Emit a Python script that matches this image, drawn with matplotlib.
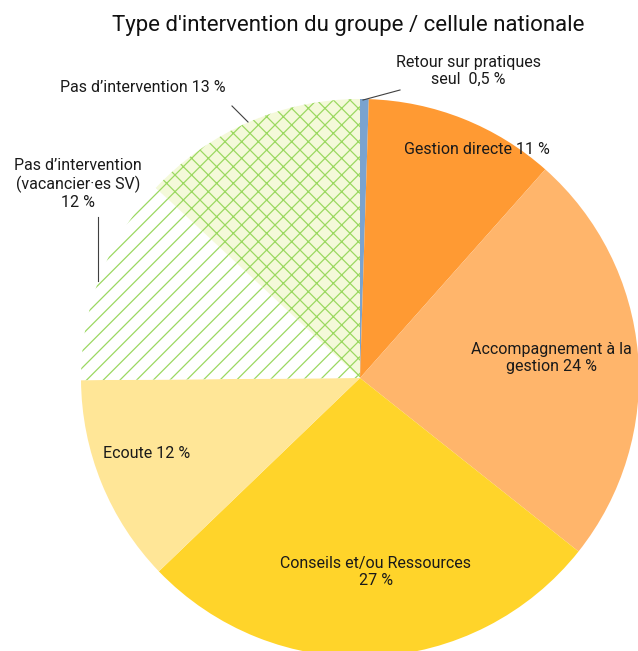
import matplotlib.pyplot as plt

plt.rcParams['font.family'] = ['Roboto', 'DejaVu Sans']
plt.rcParams['hatch.linewidth'] = 0.9

# parts, dans l'ordre horaire depuis le haut
categories = ["Retour sur pratiques\nseul  0,5 %",
              "Gestion directe 11 %",
              "Accompagnement à la\ngestion 24 %",
              "Conseils et/ou Ressources\n27 %",
              "Ecoute 12 %",
              "Pas d’intervention\n(vacancier·es SV)\n12 %",
              "Pas d’intervention 13 %"]
valeurs = [0.5, 11, 24, 27, 12, 12, 13]
couleurs = ['#7aa3cf', '#ff9a33', '#ffb56b', '#ffd42a', '#ffe697', '#ffffff', '#f4f9d9']
hachures = [None, None, None, None, None, '//', 'xx']
vert = '#9bd861'

fig = plt.figure(figsize=(6.38, 6.51), dpi=100)
ax = fig.add_axes([0, 0, 1, 1])

# axe y inversé -> counterclock=True donne un sens horaire à l'écran
wedges, _ = ax.pie(valeurs, colors=couleurs, startangle=-90, counterclock=True,
                   center=(360, 378), radius=279, frame=True)
ax.set_xlim(0, 638)
ax.set_ylim(651, 0)
ax.set_aspect('equal')
ax.axis('off')

for w, h in zip(wedges, hachures):
    w.set_linewidth(0)
    if h:
        w.set_hatch(h)
        w.set_edgecolor(vert)

# étiquettes
pos = [(468, 71), (477, 150), (551, 358), (376, 572), (147, 454), (78, 184), (143, 88)]
for (x, y), txt in zip(pos, categories):
    ax.text(x, y, txt, ha='center', va='center', fontsize=11.5, color='#1a1a1a',
            linespacing=1.15)

# traits de rappel
ax.plot([363, 400], [100, 90], color='#404040', lw=0.8)
ax.plot([232, 248], [106, 122], color='#404040', lw=0.8)
ax.plot([98, 98], [217, 281], color='#404040', lw=0.8)

ax.text(348, 26, "Type d'intervention du groupe / cellule nationale", ha='center',
        va='center', fontsize=16, color='#111111')

fig.savefig('out.png', dpi=100)
